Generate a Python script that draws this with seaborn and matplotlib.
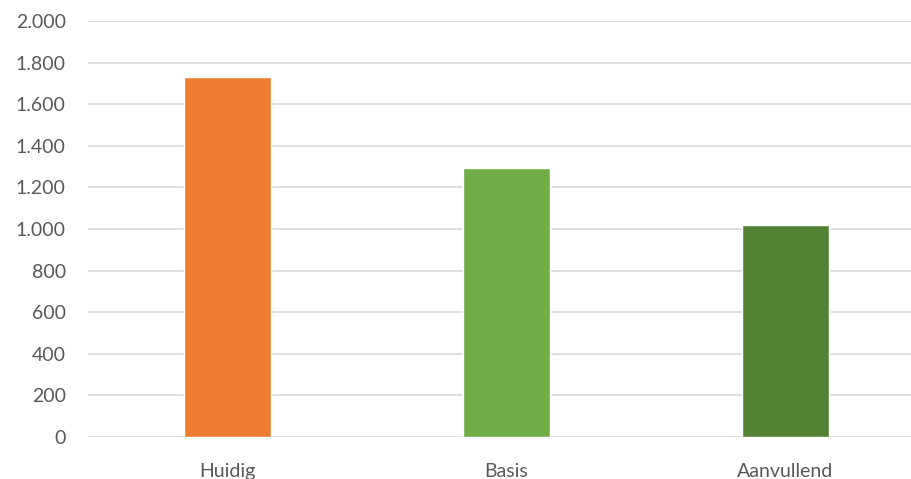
import matplotlib
matplotlib.use("Agg")
import matplotlib.pyplot as plt
import seaborn as sns
import pandas as pd
from matplotlib.ticker import FuncFormatter, MultipleLocator

categories = ["Huidig", "Basis", "Aanvullend"]
values = [1733, 1291, 1018]
colors = ["#ED7D31", "#70AD47", "#548235"]

sns.set_theme(style="white")
plt.rcParams['font.family'] = ['Lato', 'DejaVu Sans']

df = pd.DataFrame({"cat": categories, "val": values})

fig = plt.figure(figsize=(9.12, 4.79), dpi=100)
ax = fig.add_axes([88/912, 42/479, (912-88)/912, (437-21)/479])

sns.barplot(data=df, x="cat", y="val", hue="cat", palette=colors, width=0.31,
            legend=False, ax=ax, saturation=1, zorder=3)

ax.set_ylim(0, 2000)
ax.set_xlim(-0.5, (912-88)/279 - 0.5)
ax.yaxis.set_major_locator(MultipleLocator(200))
ax.yaxis.set_major_formatter(FuncFormatter(lambda v, p: f"{int(v):,}".replace(",", ".")))
ax.grid(axis="y", color="#D9D9D9", linewidth=1.2, zorder=0)
ax.set_axisbelow(True)
for s in ax.spines.values():
    s.set_visible(False)
ax.set_xlabel("")
ax.set_ylabel("")
ax.tick_params(axis="y", length=0, pad=16, labelsize=14, labelcolor="#595959")
ax.tick_params(axis="x", length=0, pad=19, labelsize=14, labelcolor="#595959")

fig.savefig("out.png", dpi=100)
